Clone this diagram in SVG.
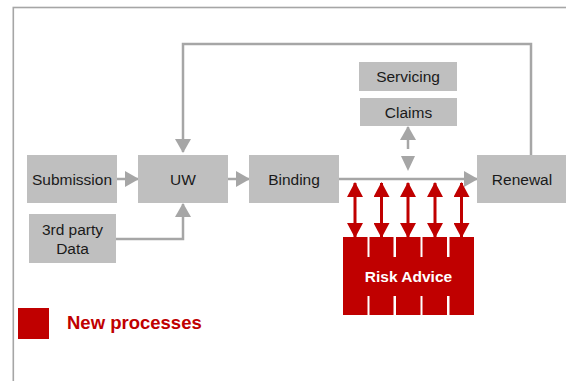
<svg xmlns="http://www.w3.org/2000/svg" width="566" height="381" viewBox="0 0 566 381">
<defs>
<style>
.box{fill:#bfbfbf}
.lbl{font-family:"Liberation Sans",Arial,sans-serif;font-size:15.5px;fill:#1a1a1a;text-anchor:middle}
.gl{fill:none;stroke:#a6a6a6;stroke-width:2.5}
.rl{fill:none;stroke:#c00000;stroke-width:3}
.red{fill:#c00000}
</style>
<marker id="ga" viewBox="0 0 14 16" refX="13" refY="8" markerWidth="14" markerHeight="16" markerUnits="userSpaceOnUse" orient="auto"><path d="M0,0 L14,8 L0,16 z" fill="#a6a6a6"/></marker>
<marker id="ra" viewBox="0 0 15 16" refX="14" refY="8" markerWidth="15" markerHeight="16" markerUnits="userSpaceOnUse" orient="auto-start-reverse"><path d="M0,0 L15,8 L0,16 z" fill="#c00000"/></marker>
</defs>
<rect width="566" height="381" fill="#ffffff"/>
<rect x="13.3" y="7.5" width="600" height="400" fill="none" stroke="#a6a6a6" stroke-width="1.6"/>

<g id="connectors">
<path class="gl" d="M531,155 V44 H183 V152" marker-end="url(#ga)"/>
<path class="gl" d="M117,179 H138" marker-end="url(#ga)"/>
<path class="gl" d="M228,179 H249" marker-end="url(#ga)"/>
<path class="gl" d="M339,179 H477" marker-end="url(#ga)"/>
<path class="gl" d="M116,239 H183 V204" marker-end="url(#ga)"/>
<path class="gl" d="M408,149 V127" marker-end="url(#ga)"/>
<path d="M401,156 L415,156 L408,171 z" fill="#a6a6a6"/>
<path class="rl" d="M355,183 V237" marker-start="url(#ra)" marker-end="url(#ra)"/>
<path class="rl" d="M381.5,183 V237" marker-start="url(#ra)" marker-end="url(#ra)"/>
<path class="rl" d="M408,183 V237" marker-start="url(#ra)" marker-end="url(#ra)"/>
<path class="rl" d="M435,183 V237" marker-start="url(#ra)" marker-end="url(#ra)"/>
<path class="rl" d="M461.5,183 V237" marker-start="url(#ra)" marker-end="url(#ra)"/>
</g>

<g id="submission"><rect class="box" x="27" y="155" width="90" height="48"/><text class="lbl" x="72" y="184.5">Submission</text></g>
<g id="uw"><rect class="box" x="138" y="155" width="90" height="48"/><text class="lbl" x="183" y="184.5">UW</text></g>
<g id="binding"><rect class="box" x="249" y="155" width="90" height="48"/><text class="lbl" x="294" y="184.5">Binding</text></g>
<g id="renewal"><rect class="box" x="477" y="155" width="90" height="48"/><text class="lbl" x="522" y="184.5">Renewal</text></g>
<g id="third-party"><rect class="box" x="29" y="214" width="87" height="49"/><text class="lbl" x="72.5" y="235">3rd party</text><text class="lbl" x="72.5" y="254">Data</text></g>
<g id="servicing"><rect class="box" x="359" y="62" width="98" height="29"/><text class="lbl" x="408" y="82">Servicing</text></g>
<g id="claims"><rect class="box" x="360" y="98" width="97" height="28"/><text class="lbl" x="408.5" y="117.5">Claims</text></g>

<g id="risk-advice">
<rect class="red" x="343" y="237" width="24.5" height="78"/>
<rect class="red" x="369.5" y="237" width="24" height="78"/>
<rect class="red" x="396" y="237" width="24.5" height="78"/>
<rect class="red" x="422.5" y="237" width="24.5" height="78"/>
<rect class="red" x="449.5" y="237" width="24.5" height="78"/>
<rect class="red" x="343" y="257" width="131" height="39"/>
<text x="408.5" y="281.5" font-family="'Liberation Sans',Arial,sans-serif" font-size="15.5" font-weight="bold" fill="#ffffff" text-anchor="middle">Risk Advice</text>
</g>

<g id="legend">
<rect class="red" x="18" y="308" width="31" height="31"/>
<text x="67" y="328.5" font-family="'Liberation Sans',Arial,sans-serif" font-size="18.5" font-weight="bold" fill="#c00000">New processes</text>
</g>
</svg>
